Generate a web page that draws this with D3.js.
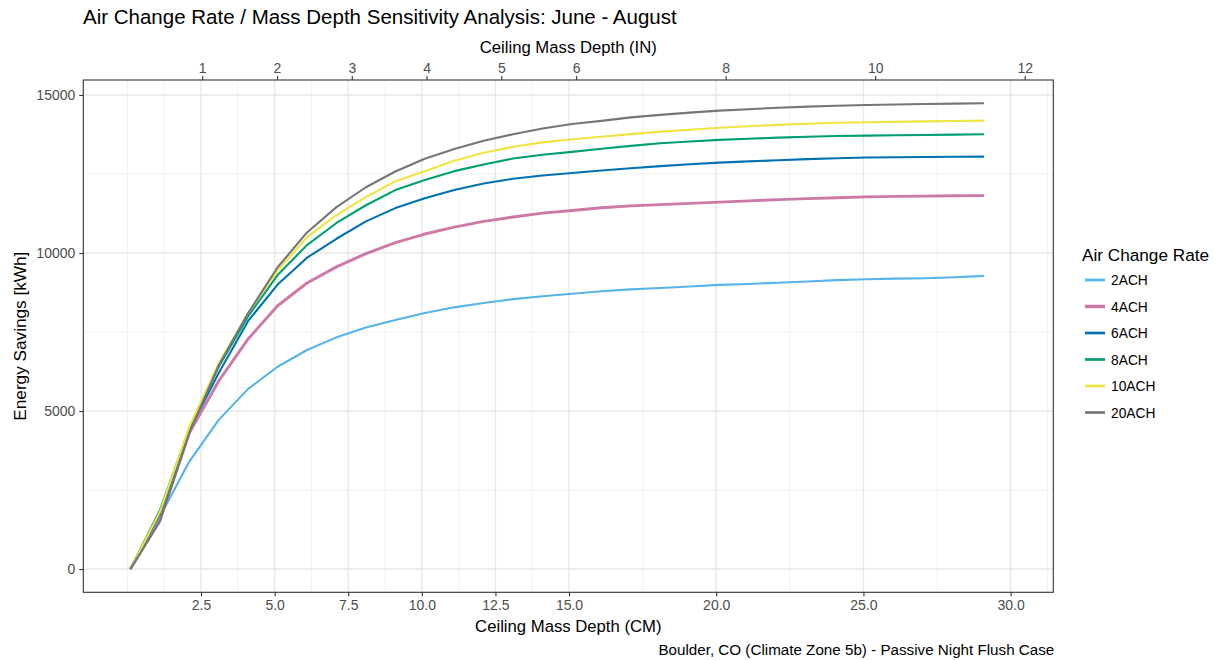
<!DOCTYPE html>
<html>
<head>
<meta charset="utf-8">
<script src="https://cdn.jsdelivr.net/npm/d3@7/dist/d3.min.js"></script>
<style>
  html, body { margin: 0; padding: 0; background: #ffffff; }
  svg { display: block; font-family: "Liberation Sans", Arial, Helvetica, sans-serif; }
</style>
</head>
<body>
<svg id="chart" width="1214" height="660"></svg>
<script>
// Ceiling mass depth of each simulated case, in centimetres
const depthCm = [0.1, 1.1, 2.1, 3.1, 4.1, 5.1, 6.1, 7.1, 8.1, 9.1,
                 10.1, 11.1, 12.1, 13.1, 14.1, 15.1, 16.1, 17.1, 18.1, 19.1,
                 20.1, 21.1, 22.1, 23.1, 24.1, 25.1, 26.1, 27.1, 28.1, 29.1];

// Summer (June - August) energy savings in kWh for each air change rate
const ach2  = [0, 1650, 3400, 4720, 5700, 6400, 6930, 7330, 7640, 7880,
               8100, 8280, 8420, 8540, 8630, 8710, 8790, 8850, 8890, 8940,
               8990, 9020, 9060, 9100, 9140, 9170, 9190, 9200, 9230, 9276];
const ach4  = [0, 1550, 4300, 5950, 7280, 8330, 9050, 9560, 9980, 10330,
               10600, 10820, 11000, 11140, 11260, 11345, 11430, 11490, 11530, 11570,
               11610, 11650, 11690, 11720, 11750, 11775, 11790, 11800, 11810, 11815];
const ach6  = [0, 1750, 4400, 6200, 7850, 9000, 9850, 10450, 11000, 11420,
               11730, 11990, 12200, 12350, 12450, 12530, 12610, 12680, 12750, 12810,
               12860, 12900, 12935, 12970, 13000, 13020, 13030, 13038, 13045, 13050];
const ach8  = [0, 1850, 4450, 6400, 8000, 9300, 10250, 10950, 11510, 11990,
               12310, 12590, 12800, 12990, 13110, 13200, 13300, 13390, 13470, 13530,
               13580, 13615, 13650, 13680, 13700, 13715, 13725, 13735, 13745, 13757];
const ach10 = [0, 1800, 4500, 6500, 8100, 9450, 10500, 11200, 11770, 12270,
               12590, 12920, 13170, 13360, 13500, 13600, 13680, 13760, 13840, 13900,
               13965, 14010, 14055, 14090, 14120, 14137, 14150, 14165, 14175, 14187];
const ach20 = [0, 1500, 4300, 6450, 8100, 9550, 10650, 11450, 12080, 12580,
               12980, 13290, 13550, 13760, 13940, 14080, 14180, 14290, 14370, 14440,
               14505, 14550, 14595, 14630, 14660, 14685, 14700, 14715, 14725, 14737];

const seriesNames  = ["2ACH", "4ACH", "6ACH", "8ACH", "10ACH", "20ACH"];
const seriesValues = [ach2, ach4, ach6, ach8, ach10, ach20];
const seriesColors = ["#56B4E9", "#CC79A7", "#0072B2", "#009E73", "#F0E442", "#767676"];
const seriesWidths = [2.1, 2.9, 2.1, 2.1, 2.1, 2.1];

// Axis breaks
const cmTicks    = [2.5, 5, 7.5, 10, 12.5, 15, 20, 25, 30];
const cmMinor    = [0, 1.25, 3.75, 6.25, 8.75, 11.25, 13.75, 17.5, 22.5, 27.5, 31.25];
const inchTicks  = [1, 2, 3, 4, 5, 6, 8, 10, 12];
const energyTicks = [0, 5000, 10000, 15000];
const energyMinor = [2500, 7500, 12500];

const CM_PER_INCH = 2.54;

const titleText   = "Air Change Rate / Mass Depth Sensitivity Analysis: June - August";
const captionText = "Boulder, CO (Climate Zone 5b) - Passive Night Flush Case";

// ---- layout ----
const panel = { left: 83.3, right: 1053.3, top: 80, bottom: 592.3 };
const svg = d3.select("#chart");

const yMax = d3.max(seriesValues, s => d3.max(s));
const yPad = yMax * 0.05;

const x = d3.scaleLinear().domain([-1.5, 31.45]).range([panel.left, panel.right]);
const y = d3.scaleLinear().domain([-yPad, yMax + yPad]).range([panel.bottom, panel.top]);

svg.append("rect").attr("width", 1214).attr("height", 660).attr("fill", "#ffffff");

// ---- grid ----
const grid = svg.append("g");
grid.selectAll(".xminor").data(cmMinor.filter(v => x(v) > panel.left && x(v) < panel.right))
  .join("line")
  .attr("x1", d => x(d)).attr("x2", d => x(d))
  .attr("y1", panel.top).attr("y2", panel.bottom)
  .attr("stroke", "#EFEFEF").attr("stroke-width", 0.9);
grid.selectAll(".yminor").data(energyMinor)
  .join("line")
  .attr("x1", panel.left).attr("x2", panel.right)
  .attr("y1", d => y(d)).attr("y2", d => y(d))
  .attr("stroke", "#EFEFEF").attr("stroke-width", 0.9);
grid.selectAll(".xmajor").data(cmTicks)
  .join("line")
  .attr("x1", d => x(d)).attr("x2", d => x(d))
  .attr("y1", panel.top).attr("y2", panel.bottom)
  .attr("stroke", "#E8E8E8").attr("stroke-width", 1.4);
grid.selectAll(".ymajor").data(energyTicks)
  .join("line")
  .attr("x1", panel.left).attr("x2", panel.right)
  .attr("y1", d => y(d)).attr("y2", d => y(d))
  .attr("stroke", "#E8E8E8").attr("stroke-width", 1.4);

// ---- lines ----
const line = d3.line()
  .x((d, i) => x(depthCm[i]))
  .y(d => y(d));

svg.append("g")
  .selectAll("path")
  .data(seriesValues)
  .join("path")
  .attr("d", d => line(d))
  .attr("fill", "none")
  .attr("stroke", (d, i) => seriesColors[i])
  .attr("stroke-width", (d, i) => seriesWidths[i])
  .attr("stroke-linejoin", "round")
  .attr("stroke-linecap", "butt");

// ---- panel border ----
svg.append("rect")
  .attr("x", panel.left).attr("y", panel.top)
  .attr("width", panel.right - panel.left).attr("height", panel.bottom - panel.top)
  .attr("fill", "none").attr("stroke", "#333333").attr("stroke-width", 1.1);

// ---- axes ----
const tickColor = "#333333";
const tickText = "#4D4D4D";
const tickFont = 14;

const bottomAxis = d3.axisBottom(x).tickValues(cmTicks).tickFormat(d3.format(".1f"))
  .tickSize(4).tickPadding(4);
const gB = svg.append("g").attr("transform", `translate(0,${panel.bottom})`).call(bottomAxis);

const topAxis = d3.axisTop(x).tickValues(inchTicks.map(v => v * CM_PER_INCH))
  .tickFormat((d, i) => String(inchTicks[i])).tickSize(4).tickPadding(3);
const gT = svg.append("g").attr("transform", `translate(0,${panel.top})`).call(topAxis);

const leftAxis = d3.axisLeft(y).tickValues(energyTicks).tickFormat(d3.format("d"))
  .tickSize(4).tickPadding(4);
const gL = svg.append("g").attr("transform", `translate(${panel.left},0)`).call(leftAxis);

[gB, gT, gL].forEach(g => {
  g.select(".domain").remove();
  g.selectAll(".tick line").attr("stroke", tickColor).attr("stroke-width", 1.1);
  g.selectAll(".tick text").attr("fill", tickText)
    .style("font-size", tickFont + "px")
    .style("font-family", "'Liberation Sans', Arial, sans-serif");
});

// ---- titles ----
svg.append("text")
  .attr("x", 83).attr("y", 24)
  .attr("fill", "#000").style("font-size", "20.5px")
  .text(titleText);

const centerX = (panel.left + panel.right) / 2;
svg.append("text")
  .attr("x", centerX).attr("y", 53)
  .attr("text-anchor", "middle").attr("fill", "#000").style("font-size", "16.7px")
  .text("Ceiling Mass Depth (IN)");

svg.append("text")
  .attr("x", centerX).attr("y", 632)
  .attr("text-anchor", "middle").attr("fill", "#000").style("font-size", "16.7px")
  .text("Ceiling Mass Depth (CM)");

svg.append("text")
  .attr("transform", `translate(26,${(panel.top + panel.bottom) / 2}) rotate(-90)`)
  .attr("text-anchor", "middle").attr("fill", "#000").style("font-size", "17.2px")
  .text("Energy Savings [kWh]");

svg.append("text")
  .attr("x", panel.right + 1).attr("y", 655)
  .attr("text-anchor", "end").attr("fill", "#000").style("font-size", "15.2px")
  .text(captionText);

// ---- legend ----
const legend = svg.append("g").attr("transform", "translate(1082,0)");
legend.append("text")
  .attr("x", 0).attr("y", 261)
  .attr("fill", "#000").style("font-size", "17.2px")
  .text("Air Change Rate");

const keyRows = legend.selectAll(".key")
  .data(seriesNames)
  .join("g")
  .attr("transform", (d, i) => `translate(0,${280 + i * 26.5})`);
keyRows.append("line")
  .attr("x1", 3).attr("x2", 23).attr("y1", 0).attr("y2", 0)
  .attr("stroke", (d, i) => seriesColors[i])
  .attr("stroke-width", (d, i) => seriesWidths[i] + 0.6);
keyRows.append("text")
  .attr("x", 29).attr("y", 5)
  .attr("fill", "#000").style("font-size", "13.8px")
  .text(d => d);
</script>
</body>
</html>
